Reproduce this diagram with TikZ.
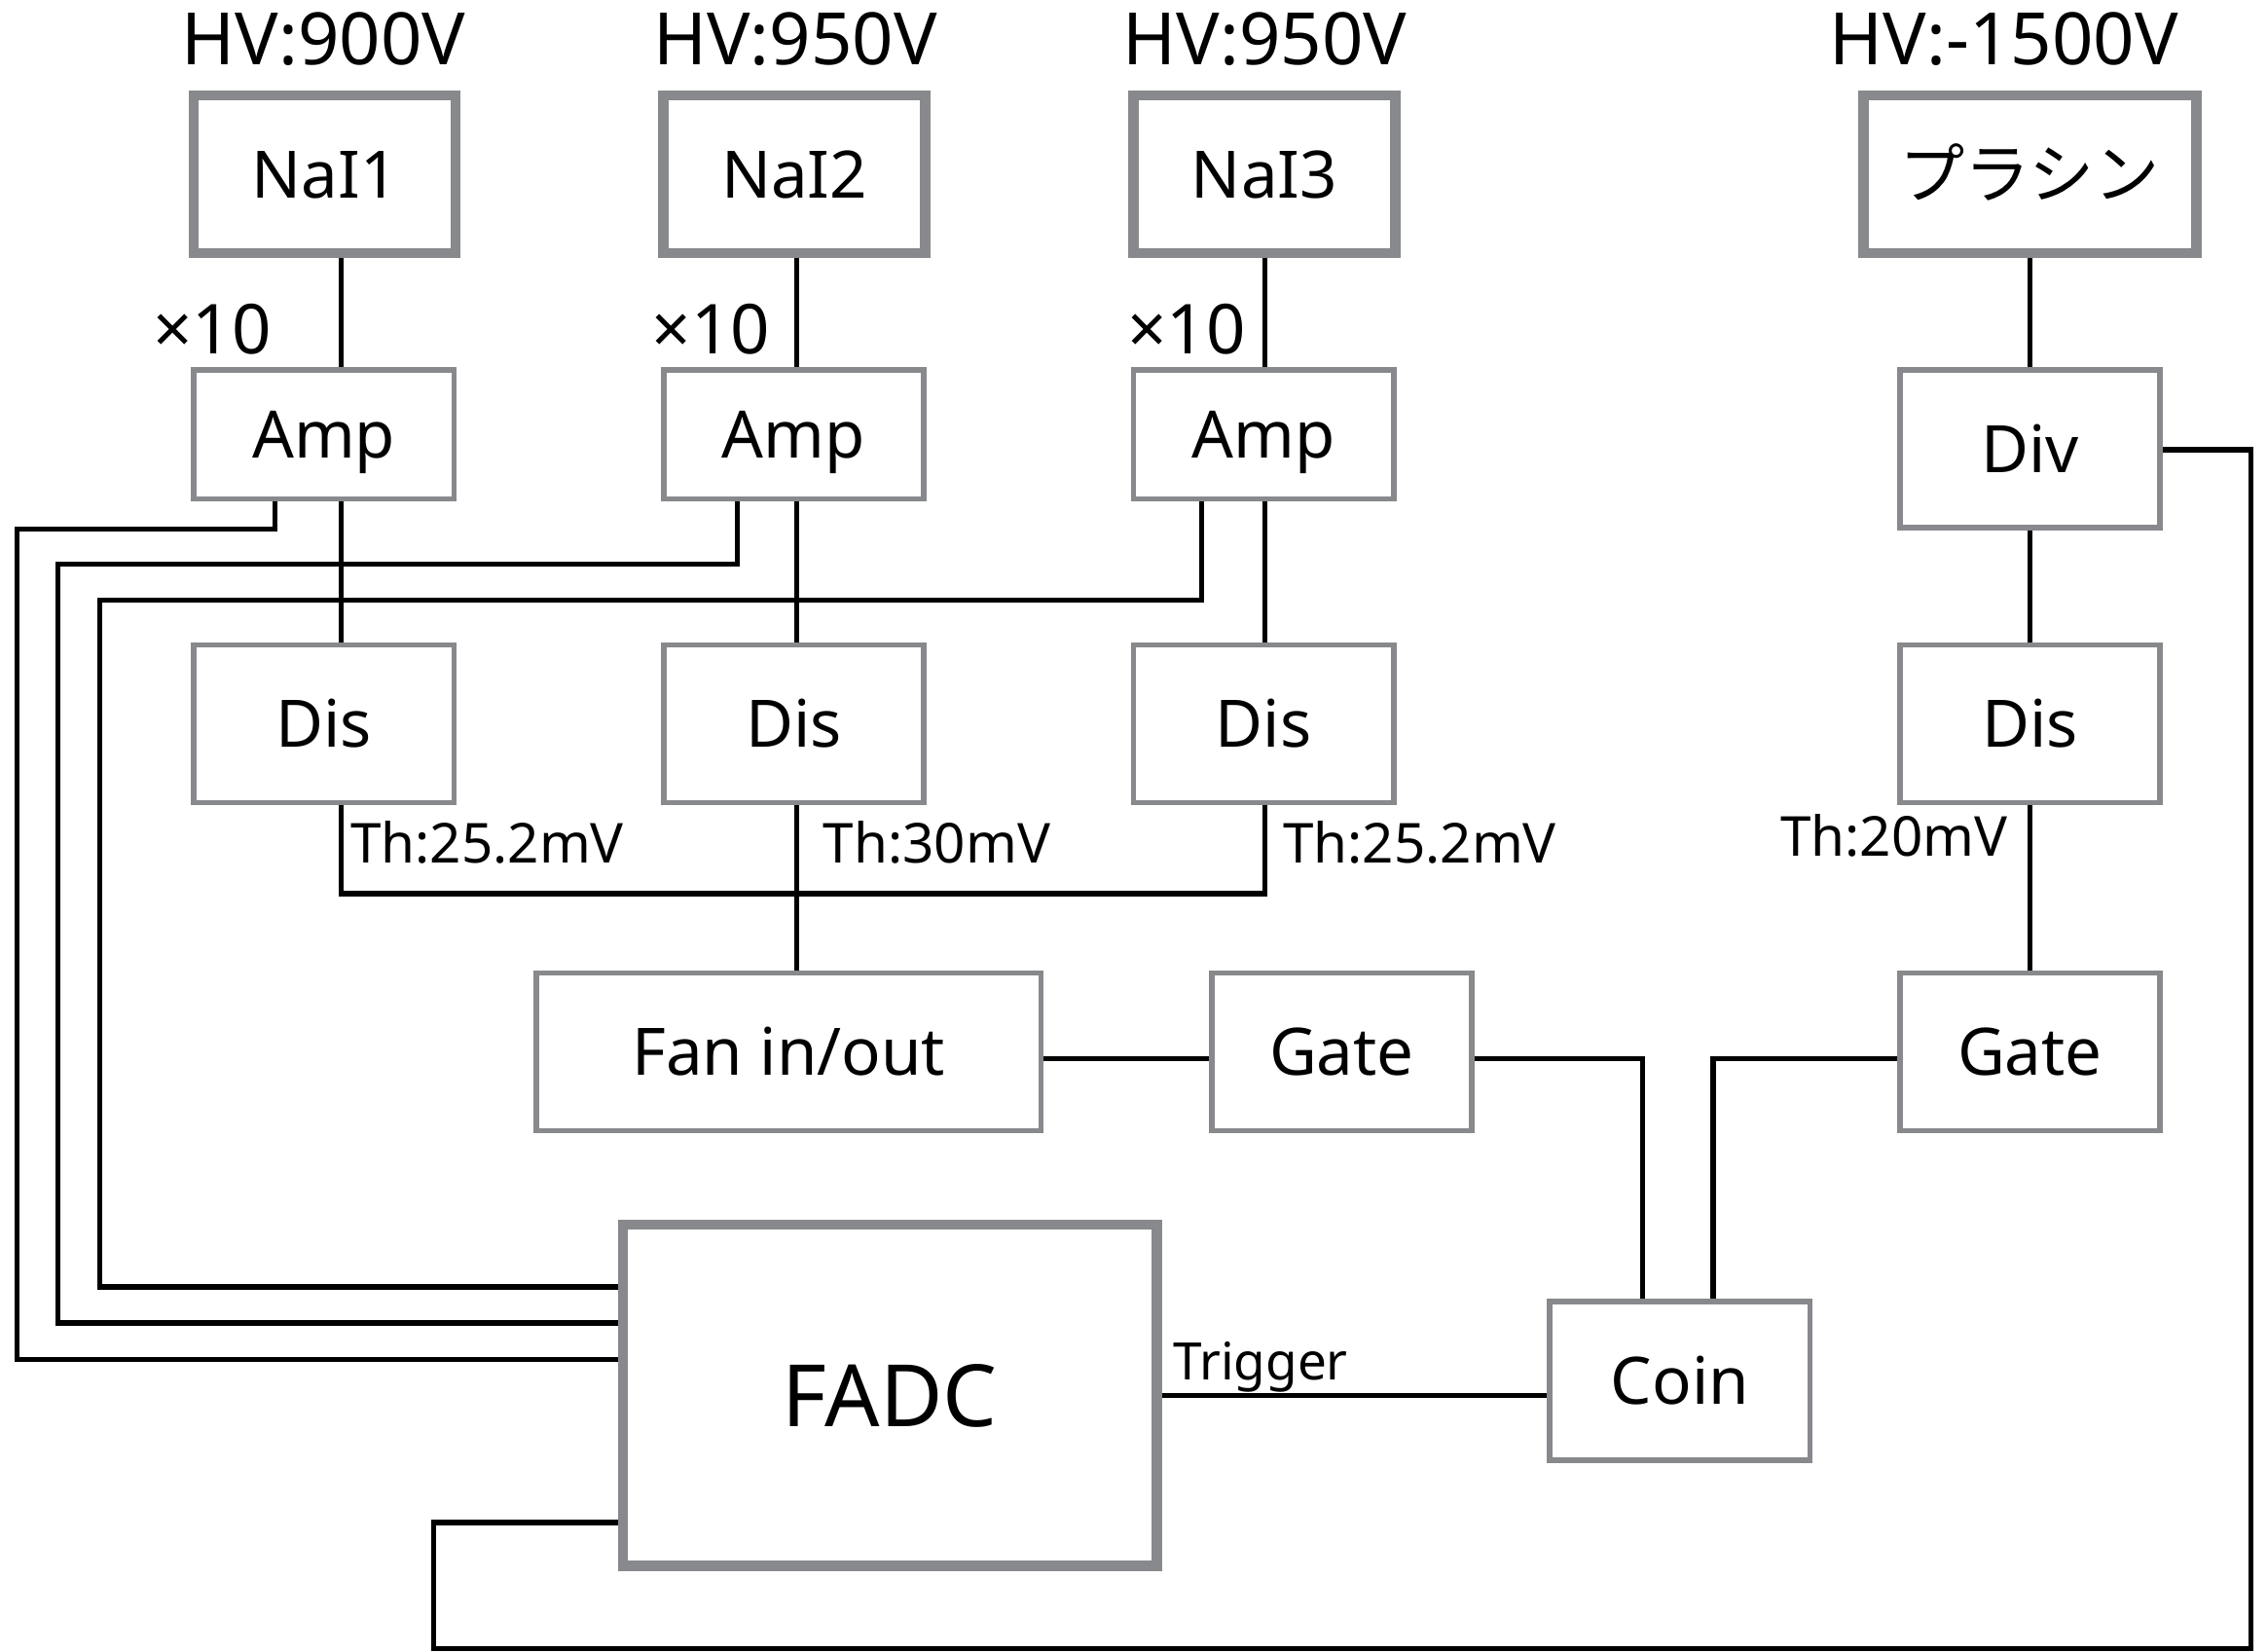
\documentclass[tikz,border=0pt]{standalone}
\usepackage{fontspec}
\setmainfont{Noto Sans}
\newfontfamily\jpfont{Noto Sans CJK JP}
\definecolor{boxgray}{RGB}{135,137,140}
\begin{document}
\begin{tikzpicture}[x=0.42pt,y=-0.42pt,
  box/.style={draw=boxgray,line width=1.6pt,inner sep=0pt,fill=white,
    font=\fontsize{19}{22}\selectfont,text height=13.6pt,text depth=0pt},
  heavybox/.style={box,line width=3pt},
  sz/.style 2 args={minimum width=#1*0.42pt,minimum height=#2*0.42pt},
  wire/.style={line width=1.5pt,black},
  hvlabel/.style={inner sep=0pt,anchor=base,font=\fontsize{21}{24}\selectfont},
  gainlabel/.style={inner sep=0pt,anchor=base east,font=\fontsize{20}{24}\selectfont},
  thlabel/.style={inner sep=0pt,font=\fontsize{16}{19}\selectfont},
]
\useasboundingbox (0,0) rectangle (1568,1142);

% column / row helper coordinates
\coordinate (c1) at (236,0);
\coordinate (c2) at (551,0);
\coordinate (c3) at (875,0);
\coordinate (o1) at (190,0);
\coordinate (o2) at (510,0);
\coordinate (o3) at (831,0);
\coordinate (l1) at (12,366);
\coordinate (l2) at (40,390);
\coordinate (l3) at (69,415);
\coordinate (r1) at (0,940);
\coordinate (r2) at (0,915);
\coordinate (r3) at (0,890);
\coordinate (j) at (551,618);
\coordinate (yg) at (0,732);
\coordinate (k1) at (1136,0);
\coordinate (k2) at (1185,0);
\coordinate (yt) at (0,965);
\coordinate (yd) at (0,311);
\coordinate (rb) at (1557,1140);
\coordinate (lb) at (300,1053);

% detectors
\node[heavybox,sz={181}{109}] (nai1) at (224.5,120.5) {NaI1};
\node[heavybox,sz={181}{109}] (nai2) at (549.5,120.5) {NaI2};
\node[heavybox,sz={181}{109}] (nai3) at (874.5,120.5) {NaI3};
\node[heavybox,sz={230}{109}] (pla) at (1404,120.5) {\jpfont プラシン};

% amps / div
\node[box,sz={180}{89}] (amp1) at (224,300.5) {Amp};
\node[box,sz={180}{89}] (amp2) at (549,300.5) {Amp};
\node[box,sz={180}{89}] (amp3) at (874,300.5) {Amp};
\node[box,sz={180}{109}] (div) at (1404,310.5) {Div};

% discriminators
\node[box,sz={180}{109}] (dis1) at (224,500.5) {Dis};
\node[box,sz={180}{109}] (dis2) at (549,500.5) {Dis};
\node[box,sz={180}{109}] (dis3) at (874,500.5) {Dis};
\node[box,sz={180}{109}] (dis4) at (1404,500.5) {Dis};

% logic
\node[box,sz={349}{109}] (fan) at (545.5,727.5) {Fan in/out};
\node[box,sz={180}{109}] (gate1) at (928,727.5) {Gate};
\node[box,sz={180}{109}] (gate2) at (1404,727.5) {Gate};
\node[box,sz={180}{110}] (coin) at (1162,955) {Coin};
\node[heavybox,sz={369}{236},font=\fontsize{25}{30}\selectfont,text height=17.9pt] (fadc) at (615.5,965) {FADC};

% labels
\node[hvlabel] (hv1) at (224,45) {HV:900V};
\node[hvlabel] (hv2) at (550,45) {HV:950V};
\node[hvlabel] (hv3) at (875,45) {HV:950V};
\node[hvlabel] (hv4) at (1386,45) {HV:-1500V};
\node[gainlabel] (g1) at (188,245) {×10};
\node[gainlabel] (g2) at (533,245) {×10};
\node[gainlabel] (g3) at (862,245) {×10};
\node[thlabel,anchor=base west] (th1) at (242,597) {Th:25.2mV};
\node[thlabel,anchor=base west] (th2) at (569,597) {Th:30mV};
\node[thlabel,anchor=base west] (th3) at (887,597) {Th:25.2mV};
\node[thlabel,anchor=base east] (th4) at (1389,592) {Th:20mV};
\node[thlabel,anchor=base west,font=\fontsize{15}{18}\selectfont] (trg) at (811,954) {Trigger};

% wires: detectors to amps
\draw[wire] (nai1.south -| c1) -- (amp1.north -| c1);
\draw[wire] (nai2.south -| c2) -- (amp2.north -| c2);
\draw[wire] (nai3.south -| c3) -- (amp3.north -| c3);
\draw[wire] (pla.south) -- (div.north);

% amps to discriminators
\draw[wire] (amp1.south -| c1) -- (dis1.north -| c1);
\draw[wire] (amp2.south -| c2) -- (dis2.north -| c2);
\draw[wire] (amp3.south -| c3) -- (dis3.north -| c3);
\draw[wire] (div.south) -- (dis4.north);

% amps to FADC
\draw[wire] (amp1.south -| o1) |- (l1) |- (fadc.west |- r1);
\draw[wire] (amp2.south -| o2) |- (l2) |- (fadc.west |- r2);
\draw[wire] (amp3.south -| o3) |- (l3) |- (fadc.west |- r3);

% discriminators to fan in/out
\draw[wire] (dis1.south -| c1) |- (j) -| (dis3.south -| c3);
\draw[wire] (dis2.south -| c2) -- (fan.north -| c2);

% logic chain
\draw[wire] (fan.east |- yg) -- (gate1.west |- yg);
\draw[wire] (gate1.east |- yg) -| (coin.north -| k1);
\draw[wire] (gate2.west |- yg) -| (coin.north -| k2);
\draw[wire] (dis4.south) -- (gate2.north);
\draw[wire] (fadc.east |- yt) -- (coin.west |- yt);

% divider to FADC
\draw[wire] (div.east |- yd) -| (rb) -| (lb) -- (fadc.west |- lb);
\end{tikzpicture}
\end{document}
